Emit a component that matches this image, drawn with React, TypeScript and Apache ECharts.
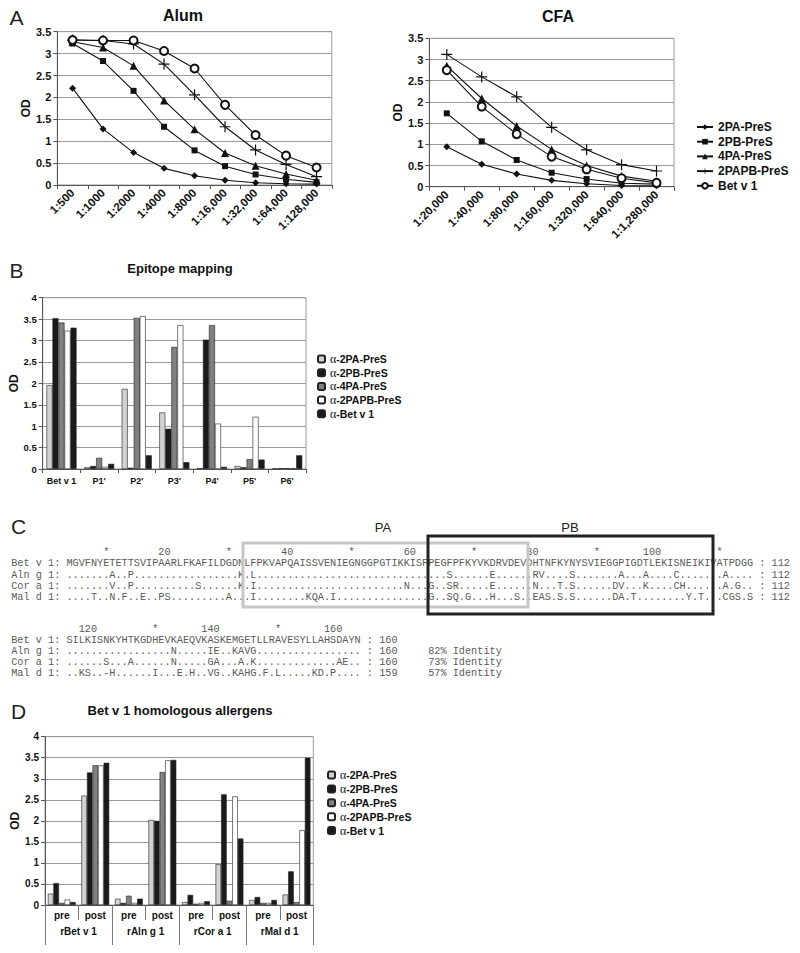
import React, { useEffect, useRef } from 'react';
import * as echarts from 'echarts';

// ---------- Panel A data ----------
const alumDilutions = ['1:500', '1:1000', '1:2000', '1:4000', '1:8000', '1:16,000', '1:32,000', '1:64,000', '1:128,000'];
const cfaDilutions = ['1:20,000', '1:40,000', '1:80,000', '1:160,000', '1:320,000', '1:640,000', '1:1,280,000'];
const lineNames = ['2PA-PreS', '2PB-PreS', '4PA-PreS', '2PAPB-PreS', 'Bet v 1'];

const alum2PA = [2.21, 1.28, 0.74, 0.38, 0.21, 0.11, 0.05, 0.03, 0.02];
const alum2PB = [3.23, 2.83, 2.15, 1.33, 0.79, 0.43, 0.24, 0.13, 0.06];
const alum4PA = [3.27, 3.14, 2.72, 1.93, 1.27, 0.73, 0.44, 0.25, 0.11];
const alum2PAPB = [3.31, 3.3, 3.22, 2.76, 2.06, 1.33, 0.8, 0.47, 0.19];
const alumBetv1 = [3.31, 3.3, 3.3, 3.06, 2.66, 1.83, 1.14, 0.67, 0.4];

const cfa2PA = [0.94, 0.53, 0.3, 0.15, 0.07, 0.03, 0.02];
const cfa2PB = [1.73, 1.07, 0.63, 0.33, 0.18, 0.08, 0.06];
const cfa4PA = [2.85, 2.08, 1.43, 0.88, 0.5, 0.25, 0.13];
const cfa2PAPB = [3.12, 2.59, 2.12, 1.4, 0.87, 0.52, 0.37];
const cfaBetv1 = [2.75, 1.89, 1.24, 0.71, 0.41, 0.2, 0.09];

// ---------- Panel B data ----------
const barNames = ['α-2PA-PreS', 'α-2PB-PreS', 'α-4PA-PreS', 'α-2PAPB-PreS', 'α-Bet v 1'];
const peptides = ['Bet v 1', "P1'", "P2'", "P3'", "P4'", "P5'", "P6'"];
const epi2PA = [1.96, 0.04, 1.87, 1.32, 0.02, 0.07, 0.01];
const epi2PB = [3.52, 0.07, 0.03, 0.94, 3.02, 0.04, 0.02];
const epi4PA = [3.42, 0.26, 3.53, 2.85, 3.36, 0.23, 0.02];
const epi2PAPB = [3.23, 0.05, 3.57, 3.36, 1.06, 1.22, 0.02];
const epiBetv1 = [3.3, 0.12, 0.32, 0.16, 0.05, 0.22, 0.32];

// ---------- Panel D data ----------
const prePost = ['pre', 'post', 'pre', 'post', 'pre', 'post', 'pre', 'post'];
const allergens = ['rBet v 1', 'rAln g 1', 'rCor a 1', 'rMal d 1'];
const hom2PA = [0.27, 2.6, 0.15, 2.02, 0.07, 0.97, 0.12, 0.25];
const hom2PB = [0.52, 3.15, 0.05, 2.0, 0.24, 2.63, 0.19, 0.8];
const hom4PA = [0.05, 3.32, 0.22, 3.16, 0.03, 0.1, 0.05, 0.07];
const hom2PAPB = [0.13, 3.32, 0.05, 3.44, 0.05, 2.58, 0.05, 1.78];
const homBetv1 = [0.07, 3.38, 0.15, 3.45, 0.09, 1.58, 0.12, 3.5];

// ---------- Panel C data ----------
const seqNames = ['Bet v 1: ', 'Aln g 1: ', 'Cor a 1: ', 'Mal d 1: '];
const betSeq1 = 'MGVFNYETETTSVIPAARLFKAFILDGDNLFPKVAPQAISSVENIEGNGGPGTIKKISFPEGFPFKYVKDRVDEVDHTNFKYNYSVIEGGPIGDTLEKISNEIKIVATPDGG';
const betSeq2 = 'SILKISNKYHTKGDHEVKAEQVKASKEMGETLLRAVESYLLAHSDAYN';
const aln1: Record<number, string> = { 8: 'A', 11: 'P', 29: 'K', 31: 'L', 63: 'S', 70: 'E', 77: 'R', 78: 'V', 83: 'S', 91: 'A', 95: 'A', 100: 'C', 108: 'A' };
const cor1: Record<number, string> = { 8: 'V', 11: 'P', 22: 'S', 29: 'K', 31: 'I', 56: 'N', 60: 'G', 63: 'S', 64: 'R', 70: 'E', 77: 'N', 81: 'T', 83: 'S', 90: 'D', 91: 'V', 95: 'K', 100: 'C', 101: 'H', 108: 'A', 110: 'G' };
const mal1: Record<number, string> = { 5: 'T', 8: 'N', 10: 'F', 13: 'E', 16: 'P', 17: 'S', 27: 'A', 31: 'I', 40: 'K', 41: 'Q', 42: 'A', 44: 'I', 60: 'G', 63: 'S', 64: 'Q', 66: 'G', 70: 'H', 74: 'S', 77: 'E', 78: 'A', 79: 'S', 81: 'S', 83: 'S', 90: 'D', 91: 'A', 93: 'T', 102: 'Y', 104: 'T', 108: 'C', 109: 'G', 110: 'S', 112: 'S' };
const aln2: Record<number, string> = { 130: 'N', 136: 'I', 137: 'E', 140: 'K', 141: 'A', 142: 'V', 143: 'G' };
const cor2: Record<number, string> = { 119: 'S', 123: 'A', 130: 'N', 136: 'G', 137: 'A', 141: 'A', 143: 'K', 157: 'A', 158: 'E' };
const mal2: Record<number, string> = { 115: 'K', 116: 'S', 119: '-', 120: 'H', 127: 'I', 131: 'E', 133: 'H', 136: 'V', 137: 'G', 140: 'K', 141: 'A', 142: 'H', 143: 'G', 145: 'F', 147: 'L', 153: 'K', 154: 'D', 156: 'P' };
const ruler1: Record<number, string> = { 6: '*', 15: '20', 26: '*', 35: '40', 46: '*', 55: '60', 66: '*', 75: '80', 86: '*', 94: '100', 106: '*' };
const ruler2: Record<number, string> = { 2: '120', 14: '*', 22: '140', 34: '*', 42: '160' };
const ends1 = [' : 112', ' : 112', ' : 112', ' : 112'];
const ends2 = [' : 160', ' : 160', ' : 160', ' : 159'];
const identities = ['', '82% Identity', '73% Identity', '57% Identity'];

const NB = '\u00a0';
const nb = (s: string) => s.replace(/ /g, NB);

function buildRow(base: string, diffs: Record<number, string>, start: number) {
  let s = '';
  for (let i = 0; i < base.length; i++) s += diffs[start + i] ?? '.';
  return s;
}
function buildRuler(len: number, marks: Record<number, string>) {
  const arr = new Array(len).fill(' ');
  Object.keys(marks).forEach((k) => {
    const idx = Number(k);
    const m = marks[idx];
    for (let j = 0; j < m.length; j++) arr[idx + j] = m[j];
  });
  return arr.join('');
}

const SANS = 'Liberation Sans';
const MONO = 'Liberation Mono';

export default function App() {
  const ref = useRef<HTMLDivElement>(null);
  useEffect(() => {
    if (!ref.current) return;
    const chart = echarts.init(ref.current, undefined, { renderer: 'svg' });

    const plusPath = 'path://M0,4.45h10v1.1h-10z M4.45,0h1.1v10h-1.1z';
    const symbols = ['diamond', 'rect', 'triangle', plusPath, 'emptyCircle'];
    const symSizes = [7, 6, 8, 11, 8];
    const alumData = [alum2PA, alum2PB, alum4PA, alum2PAPB, alumBetv1];
    const cfaData = [cfa2PA, cfa2PB, cfa4PA, cfa2PAPB, cfaBetv1];
    const epiData = [epi2PA, epi2PB, epi4PA, epi2PAPB, epiBetv1];
    const homData = [hom2PA, hom2PB, hom4PA, hom2PAPB, homBetv1];
    const barColors = ['#d2d2d2', '#1a1a1a', '#808080', '#ffffff', '#1a1a1a'];

    const axisLine = { show: true, lineStyle: { color: '#555', width: 1 } };
    const splitLine = { show: true, lineStyle: { color: '#9a9a9a', width: 1 } };
    const gridBase = { show: true, borderColor: '#9a9a9a', borderWidth: 1, backgroundColor: 'transparent' };

    const lineSeries = (data: number[][], xi: number) =>
      data.map((d, i) => ({
        type: 'line',
        name: lineNames[i],
        xAxisIndex: xi,
        yAxisIndex: xi,
        data: d,
        symbol: symbols[i],
        symbolSize: symSizes[i],
        showAllSymbol: true,
        lineStyle: { color: '#111', width: 1.1 },
        itemStyle: { color: '#111', borderColor: '#111', borderWidth: i === 4 ? 0.9 : 0 },
      }));
    const barSeries = (data: number[][], xi: number, gap: string) =>
      data.map((d, i) => ({
        type: 'bar',
        name: barNames[i],
        xAxisIndex: xi,
        yAxisIndex: xi,
        data: d,
        barGap: '0%',
        barCategoryGap: gap,
        itemStyle: { color: barColors[i], borderColor: '#222', borderWidth: 0.6 },
      }));

    // ---- sequence alignment texts ----
    const seqTexts: any[] = [];
    const rowX = 11.2;
    const mkText = (text: string, x: number, y: number) => ({
      type: 'text',
      x,
      y,
      silent: true,
      style: {
        text,
        fontFamily: MONO,
        fontSize: 10.23,
        fill: '#5a5a5a',
        textVerticalAlign: 'middle',
        verticalAlign: 'middle',
        textAlign: 'left',
        align: 'left',
      },
    });
    const block1Rows = [
      betSeq1,
      buildRow(betSeq1, aln1, 1),
      buildRow(betSeq1, cor1, 1),
      buildRow(betSeq1, mal1, 1),
    ];
    const block2Rows = [
      betSeq2,
      buildRow(betSeq2, aln2, 113),
      buildRow(betSeq2, cor2, 113),
      buildRow(betSeq2, mal2, 113),
    ];
    const y1 = [563, 574.5, 585.8, 597];
    const y2 = [640, 651, 662, 673];
    seqTexts.push(mkText(nb('         ' + buildRuler(112, ruler1)), rowX, 551.5));
    block1Rows.forEach((r, i) => seqTexts.push(mkText(nb(seqNames[i] + r + ends1[i]), rowX, y1[i])));
    seqTexts.push(mkText(nb('         ' + buildRuler(48, ruler2)), rowX, 628.5));
    block2Rows.forEach((r, i) =>
      seqTexts.push(mkText(nb(seqNames[i] + r + ends2[i] + (identities[i] ? '     ' + identities[i] : '')), rowX, y2[i]))
    );

    const panelLetter = (t: string, x: number, y: number) => ({
      type: 'text',
      x,
      y,
      silent: true,
      style: { text: t, fontFamily: SANS, fontSize: 21, fill: '#222', textVerticalAlign: 'middle', verticalAlign: 'middle' },
    });
    const label = (t: string, x: number, y: number) => ({
      type: 'text',
      x,
      y,
      silent: true,
      style: { text: t, fontFamily: SANS, fontSize: 13, fill: '#222', textAlign: 'center', align: 'center', textVerticalAlign: 'middle', verticalAlign: 'middle' },
    });

    const graphic = [
      panelLetter('A', 9.5, 17),
      panelLetter('B', 9.5, 270),
      panelLetter('C', 11, 526),
      panelLetter('D', 11, 711),
      label('PA', 383, 527),
      label('PB', 570, 527),
      ...seqTexts,
      { type: 'rect', silent: true, shape: { x: 243, y: 543, width: 285, height: 64 }, style: { fill: 'none', stroke: '#c6c6c6', lineWidth: 3 } },
      { type: 'rect', silent: true, shape: { x: 428, y: 536, width: 285, height: 78 }, style: { fill: 'none', stroke: '#222', lineWidth: 3 } },
    ];

    const titleStyle = (size: number) => ({ fontFamily: SANS, fontWeight: 'bold', fontSize: size, color: '#111' });
    const yAxisBase = (max: number, labelSize: number, gap: number, grid: number) => ({
      type: 'value',
      gridIndex: grid,
      min: 0,
      max,
      interval: 0.5,
      name: 'OD',
      nameLocation: 'middle',
      nameGap: gap,
      nameTextStyle: { fontFamily: SANS, fontWeight: 'bold', fontSize: 12, color: '#111' },
      axisLine,
      axisTick: { show: true, length: 4, lineStyle: { color: '#555' } },
      splitLine,
      axisLabel: { fontFamily: SANS, fontWeight: 'bold', fontSize: labelSize, color: '#111', margin: 6 },
    });

    const barLegend = (left: number, top: number, gap: number) => ({
      orient: 'vertical',
      left,
      top,
      padding: 0,
      itemWidth: 7,
      itemHeight: 7,
      itemGap: gap,
      data: barNames,
      formatter: (n: string) => '{a|α}{b|' + n.slice(1) + '}',
      textStyle: {
        lineHeight: 11,
        rich: {
          a: { fontFamily: 'Liberation Serif', fontSize: 12, color: '#111' },
          b: { fontFamily: SANS, fontWeight: 'bold', fontSize: 10.5, color: '#111' },
        },
      },
    });

    const option: any = {
      animation: false,
      backgroundColor: '#fff',
      title: [
        { text: 'Alum', left: 183, top: 7, textAlign: 'center', padding: 0, textStyle: titleStyle(16) },
        { text: 'CFA', left: 558, top: 8, textAlign: 'center', padding: 0, textStyle: titleStyle(16) },
        { text: 'Epitope mapping', left: 180, top: 262, textAlign: 'center', padding: 0, textStyle: titleStyle(13) },
        { text: 'Bet v 1 homologous allergens', left: 180, top: 704, textAlign: 'center', padding: 0, textStyle: titleStyle(13) },
      ],
      grid: [
        { left: 57.3, top: 31.7, width: 274.5, height: 153.3, ...gridBase },
        { left: 429.3, top: 38.3, width: 244.7, height: 148.4, ...gridBase },
        { left: 42.7, top: 297.7, width: 263.3, height: 171.3, ...gridBase },
        { left: 45, top: 736.7, width: 268.3, height: 168.3, ...gridBase },
      ],
      legend: [
        {
          orient: 'vertical',
          left: 696,
          top: 121,
          padding: 0,
          itemWidth: 16,
          itemHeight: 7,
          itemGap: 2.7,
          data: lineNames,
          textStyle: { fontFamily: SANS, fontWeight: 'bold', fontSize: 12, color: '#111', lineHeight: 11 },
        },
        barLegend(317, 353, 1.7),
        barLegend(327, 769, 1.9),
      ],
      xAxis: [
        {
          type: 'category', gridIndex: 0, data: alumDilutions, boundaryGap: true, axisLine,
          axisTick: { show: true, length: 4, lineStyle: { color: '#555' } },
          axisLabel: { rotate: 45, interval: 0, margin: 6, fontFamily: SANS, fontWeight: 'bold', fontSize: 11.5, color: '#111' },
        },
        {
          type: 'category', gridIndex: 1, data: cfaDilutions, boundaryGap: true, axisLine,
          axisTick: { show: true, length: 4, lineStyle: { color: '#555' } },
          axisLabel: { rotate: 45, interval: 0, margin: 6, fontFamily: SANS, fontWeight: 'bold', fontSize: 11.5, color: '#111' },
        },
        {
          type: 'category', gridIndex: 2, data: peptides, boundaryGap: true, axisLine,
          axisTick: { show: true, length: 4, lineStyle: { color: '#555' } },
          axisLabel: { interval: 0, margin: 7, fontFamily: SANS, fontWeight: 'bold', fontSize: 9, color: '#111' },
        },
        {
          type: 'category', gridIndex: 3, data: prePost, boundaryGap: true, axisLine,
          axisTick: { show: true, length: 15, lineStyle: { color: '#777' } },
          axisLabel: { interval: 0, margin: 5, fontFamily: SANS, fontWeight: 'bold', fontSize: 10, color: '#111' },
        },
        {
          type: 'category', gridIndex: 3, data: allergens, boundaryGap: true, position: 'bottom',
          axisLine: { show: false },
          axisTick: { show: true, length: 40, lineStyle: { color: '#777' } },
          axisLabel: { interval: 0, margin: 21, fontFamily: SANS, fontWeight: 'bold', fontSize: 10, color: '#111' },
        },
      ],
      yAxis: [
        yAxisBase(3.5, 11, 25, 0),
        yAxisBase(3.5, 11, 24, 1),
        yAxisBase(4, 9.5, 21, 2),
        yAxisBase(4, 10, 22, 3),
      ],
      series: [
        ...lineSeries(alumData, 0),
        ...lineSeries(cfaData, 1),
        ...barSeries(epiData, 2, '20%'),
        ...barSeries(homData, 3, '17%'),
      ],
      graphic,
    };
    chart.setOption(option);
    return () => chart.dispose();
  }, []);
  return <div ref={ref} style={{ position: 'absolute', left: 0, top: 0, width: 800, height: 953 }} />;
}
